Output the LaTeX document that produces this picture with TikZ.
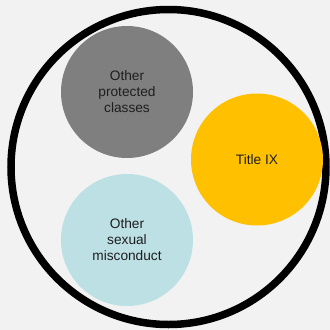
\documentclass[tikz,border=0pt]{standalone}
\usepackage{fontspec}
\setmainfont{Liberation Sans}
\definecolor{bgcol}{HTML}{F2F2F2}
\definecolor{graycol}{HTML}{7F7F7F}
\definecolor{goldcol}{HTML}{FFC000}
\definecolor{bluecol}{HTML}{BCE0E4}
\definecolor{txtcol}{HTML}{1E1E1E}
\begin{document}
\begin{tikzpicture}[x=1pt,y=-1pt,
  bubble/.style={circle,draw=none,minimum size=132pt,inner sep=0pt,align=center,
    text=txtcol,font=\fontsize{13.7pt}{16pt}\selectfont},
  ring/.style={circle,draw=black,line width=7.5pt,minimum size=315pt,inner sep=0pt}]
  \fill[bgcol] (0,0) rectangle (330,330);
  \useasboundingbox (0,0) rectangle (330,330);
  \node[ring] (outer) at (168.5,167) {};
  \node[bubble,fill=graycol] (protected) at (127,92) {Other\\protected\\classes};
  \node[bubble,fill=goldcol] (titleix) at (257,159.5) {Title IX};
  \node[bubble,fill=bluecol] (sexual) at (127,240) {Other\\sexual\\misconduct};
\end{tikzpicture}
\end{document}
